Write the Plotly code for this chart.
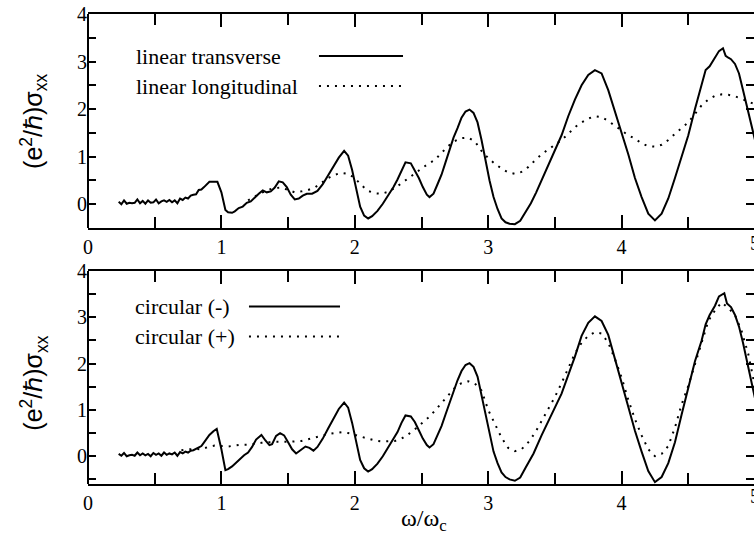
import plotly.graph_objects as go

# ---------------- data ----------------
# top panel: linear transverse (solid)
lt_x = [0.23,0.25,0.27,0.29,0.31,0.33,0.35,0.37,0.39,0.41,0.43,0.45,0.47,0.49,0.51,0.53,0.55,0.57,0.59,0.61,
        0.63,0.65,0.67,0.69,0.71,0.73,0.75,0.77,0.79,0.81,0.83,0.85,0.87,0.89,0.91,0.94,0.97,1.00,1.03,1.05,
        1.08,1.10,1.13,1.16,1.19,1.22,1.25,1.28,1.31,1.34,1.37,1.40,1.43,1.46,1.49,1.52,1.55,1.58,1.61,1.64,
        1.68,1.72,1.76,1.80,1.84,1.88,1.92,1.95,1.98,2.01,2.04,2.07,2.10,2.13,2.17,2.21,2.25,2.29,2.32,2.35,
        2.38,2.42,2.45,2.48,2.51,2.54,2.56,2.59,2.62,2.65,2.68,2.71,2.74,2.77,2.80,2.83,2.86,2.89,2.92,2.95,
        2.98,3.01,3.04,3.07,3.10,3.13,3.16,3.20,3.24,3.28,3.32,3.36,3.40,3.45,3.50,3.55,3.60,3.65,3.70,3.75,
        3.80,3.85,3.90,3.95,4.00,4.05,4.10,4.15,4.20,4.25,4.30,4.35,4.40,4.45,4.50,4.55,4.60,4.63,4.66,4.70,
        4.73,4.76,4.78,4.80,4.82,4.85,4.88,4.91,4.94,4.97,5.00]
lt_y = [0.05,0.00,0.08,0.01,0.03,0.02,0.03,0.10,0.02,0.07,0.01,0.08,0.03,0.04,0.10,0.02,0.06,0.08,0.05,0.09,
        0.04,0.08,0.02,0.12,0.09,0.14,0.12,0.18,0.20,0.21,0.30,0.31,0.36,0.42,0.47,0.47,0.47,0.25,-0.12,-0.17,
        -0.18,-0.15,-0.08,-0.05,0.03,0.06,0.15,0.22,0.29,0.25,0.27,0.35,0.48,0.46,0.36,0.20,0.10,0.12,0.18,0.22,
        0.22,0.28,0.42,0.60,0.80,0.98,1.12,1.02,0.72,0.30,-0.05,-0.24,-0.30,-0.25,-0.14,0.01,0.18,0.36,0.52,0.72,
        0.88,0.86,0.72,0.55,0.36,0.20,0.15,0.22,0.42,0.62,0.88,1.14,1.40,1.60,1.82,1.95,1.99,1.92,1.72,1.35,
        0.90,0.50,0.15,-0.10,-0.30,-0.38,-0.41,-0.42,-0.35,-0.17,0.02,0.25,0.50,0.85,1.15,1.45,1.85,2.20,2.50,2.72,
        2.82,2.75,2.40,1.95,1.55,1.05,0.55,0.15,-0.20,-0.34,-0.20,0.12,0.55,1.00,1.45,2.00,2.50,2.82,2.90,3.10,
        3.22,3.28,3.12,3.08,3.05,2.95,2.75,2.40,2.05,1.70,1.35]

# top panel: linear longitudinal (dotted)
ll_x = [1.20,1.25,1.30,1.35,1.40,1.45,1.50,1.55,1.60,1.65,1.70,1.75,1.80,1.85,1.90,1.95,2.00,2.05,2.10,2.15,
        2.20,2.25,2.30,2.35,2.40,2.45,2.50,2.55,2.60,2.65,2.70,2.75,2.80,2.85,2.90,2.95,3.00,3.05,3.10,3.15,
        3.20,3.25,3.30,3.35,3.40,3.45,3.50,3.55,3.60,3.65,3.70,3.75,3.80,3.85,3.90,3.95,4.00,4.05,4.10,4.15,
        4.20,4.25,4.30,4.35,4.40,4.45,4.50,4.55,4.60,4.65,4.70,4.75,4.80,4.85,4.90,4.95,5.00]
ll_y = [0.08,0.16,0.24,0.30,0.34,0.35,0.30,0.25,0.27,0.30,0.35,0.45,0.55,0.62,0.66,0.64,0.55,0.40,0.28,0.23,
        0.22,0.26,0.34,0.44,0.55,0.65,0.75,0.85,0.93,1.08,1.22,1.33,1.39,1.40,1.32,1.12,0.97,0.85,0.75,0.67,
        0.64,0.68,0.78,0.92,1.05,1.15,1.25,1.35,1.48,1.62,1.72,1.80,1.85,1.83,1.75,1.65,1.55,1.45,1.38,1.28,
        1.22,1.21,1.25,1.35,1.48,1.60,1.72,1.90,2.08,2.20,2.28,2.31,2.30,2.27,2.22,2.16,2.10]

# bottom panel: circular (-) (solid)
cm_x = [0.23,0.25,0.27,0.29,0.31,0.33,0.35,0.37,0.39,0.41,0.43,0.45,0.47,0.49,0.51,0.53,0.55,0.57,0.59,0.61,
        0.63,0.65,0.67,0.69,0.71,0.73,0.75,0.77,0.79,0.81,0.83,0.85,0.87,0.89,0.91,0.94,0.965,1.00,1.03,1.05,
        1.08,1.11,1.14,1.17,1.20,1.23,1.26,1.30,1.33,1.36,1.38,1.41,1.44,1.47,1.50,1.53,1.56,1.59,1.63,1.66,
        1.69,1.72,1.76,1.80,1.84,1.88,1.92,1.95,1.98,2.01,2.04,2.07,2.10,2.13,2.17,2.21,2.25,2.29,2.32,2.35,
        2.38,2.42,2.45,2.48,2.51,2.54,2.56,2.59,2.62,2.65,2.68,2.71,2.74,2.77,2.80,2.83,2.86,2.89,2.92,2.95,
        2.98,3.01,3.04,3.07,3.10,3.13,3.16,3.20,3.24,3.28,3.32,3.34,3.40,3.45,3.50,3.55,3.60,3.65,3.70,3.75,
        3.80,3.85,3.90,3.95,4.00,4.05,4.10,4.15,4.20,4.25,4.30,4.35,4.40,4.45,4.50,4.55,4.60,4.63,4.66,4.70,
        4.73,4.77,4.79,4.82,4.85,4.88,4.91,4.94,4.97,5.00]
cm_y = [0.05,0.01,0.07,0.00,0.02,0.03,0.01,0.08,0.02,0.06,0.02,0.05,0.00,0.07,0.03,0.06,0.01,0.08,0.03,0.06,
        0.04,0.08,0.01,0.09,0.06,0.10,0.08,0.12,0.13,0.16,0.20,0.22,0.30,0.38,0.46,0.54,0.59,0.15,-0.30,-0.28,
        -0.22,-0.14,-0.05,0.02,0.08,0.20,0.36,0.46,0.34,0.24,0.26,0.44,0.50,0.45,0.30,0.15,0.06,0.12,0.21,0.18,
        0.12,0.20,0.38,0.60,0.82,1.02,1.16,1.05,0.72,0.30,-0.08,-0.26,-0.33,-0.28,-0.16,0.00,0.18,0.36,0.52,0.72,
        0.88,0.86,0.74,0.56,0.38,0.24,0.19,0.26,0.45,0.65,0.90,1.16,1.42,1.64,1.84,1.97,2.01,1.93,1.72,1.32,
        0.85,0.45,0.10,-0.15,-0.35,-0.45,-0.50,-0.53,-0.46,-0.25,-0.04,0.06,0.45,0.75,1.02,1.35,1.75,2.15,2.60,2.88,
        3.02,2.92,2.62,2.10,1.58,1.05,0.55,0.10,-0.32,-0.56,-0.45,-0.15,0.30,0.90,1.50,2.05,2.50,2.85,3.05,3.25,
        3.45,3.52,3.30,3.22,3.05,2.80,2.45,2.05,1.65,1.25]

# bottom panel: circular (+) (dotted)
cp_x = [0.70,0.75,0.80,0.85,0.90,0.95,1.00,1.05,1.10,1.15,1.20,1.25,1.30,1.40,1.50,1.60,1.70,1.80,1.90,1.95,
        2.00,2.05,2.10,2.15,2.20,2.25,2.30,2.35,2.40,2.45,2.50,2.55,2.60,2.65,2.70,2.75,2.80,2.85,2.90,2.95,
        3.00,3.05,3.10,3.15,3.20,3.25,3.30,3.35,3.40,3.45,3.50,3.55,3.60,3.65,3.70,3.75,3.80,3.85,3.90,3.95,
        4.00,4.05,4.10,4.15,4.20,4.25,4.30,4.35,4.40,4.45,4.50,4.55,4.60,4.65,4.70,4.75,4.80,4.85,4.90,4.95,5.00]
cp_y = [0.13,0.15,0.16,0.15,0.20,0.23,0.22,0.21,0.23,0.25,0.25,0.27,0.29,0.31,0.31,0.33,0.40,0.48,0.52,0.50,
        0.46,0.42,0.37,0.34,0.32,0.32,0.33,0.38,0.47,0.58,0.70,0.83,0.98,1.15,1.32,1.48,1.58,1.62,1.57,1.42,
        1.00,0.70,0.40,0.18,0.11,0.15,0.30,0.50,0.75,1.00,1.28,1.58,1.92,2.22,2.45,2.60,2.68,2.65,2.45,2.10,
        1.70,1.22,0.80,0.45,0.15,0.00,0.05,0.22,0.62,1.12,1.52,1.98,2.45,2.92,3.15,3.32,3.20,3.05,2.70,2.20,1.50]

top_names = ["linear transverse", "linear longitudinal"]
bot_names = ["circular (-)", "circular (+)"]
x_ticks = [0, 1, 2, 3, 4, 5]
y_ticks = [0, 1, 2, 3, 4]

# ---------------- figure ----------------
SERIF = "Liberation Serif, Times New Roman, serif"
SANS = "Liberation Sans, Arial, sans-serif"
DOT = "2px,6px"

fig = go.Figure()
fig.add_trace(go.Scatter(x=lt_x, y=lt_y, mode="lines", line=dict(color="black", width=2),
                         xaxis="x", yaxis="y", name=top_names[0], showlegend=False))
fig.add_trace(go.Scatter(x=ll_x, y=ll_y, mode="lines", line=dict(color="black", width=2, dash=DOT),
                         xaxis="x", yaxis="y", name=top_names[1], showlegend=False))
fig.add_trace(go.Scatter(x=cm_x, y=cm_y, mode="lines", line=dict(color="black", width=2),
                         xaxis="x2", yaxis="y2", name=bot_names[0], showlegend=False))
fig.add_trace(go.Scatter(x=cp_x, y=cp_y, mode="lines", line=dict(color="black", width=2, dash=DOT),
                         xaxis="x2", yaxis="y2", name=bot_names[1], showlegend=False))

XMAX = 4.9925
TOP_DOM = [0.5447, 1.0]
BOT_DOM = [0.0, 0.4532]

def xax(anchor):
    return dict(range=[0, XMAX], anchor=anchor, showline=True, linecolor="black", linewidth=2,
                mirror="ticks", ticks="inside", ticklen=13, tickwidth=1.5, tickcolor="black",
                tickvals=x_ticks, ticktext=[str(v) for v in x_ticks],
                minor=dict(dtick=0.5, tick0=0, ticks="inside", ticklen=11, tickwidth=1.5, tickcolor="black"),
                showgrid=False, zeroline=False,
                tickfont=dict(family=SERIF, size=20, color="black"))

def yax(anchor, dom, rng):
    # the right-hand frame line lies just outside the canvas in the reference,
    # so only the (mirrored) ticks are drawn there; the left line is a shape
    return dict(range=rng, domain=dom, anchor=anchor, showline=False,
                mirror="ticks", ticks="inside", ticklen=8, tickwidth=1.5, tickcolor="black",
                tickvals=y_ticks, ticktext=[str(v) for v in y_ticks],
                minor=dict(dtick=0.5, tick0=0, ticks="inside", ticklen=8, tickwidth=1.5, tickcolor="black"),
                showgrid=False, zeroline=False,
                tickfont=dict(family=SERIF, size=20, color="black"))

ytitle = "(e<sup>2</sup>/ℏ)σ<sub>xx</sub>"

annotations = [
    dict(text=top_names[0], xref="paper", yref="paper", x=0.069, y=0.9106, xanchor="left", yanchor="middle",
         showarrow=False, font=dict(family=SERIF, size=22, color="black")),
    dict(text=top_names[1], xref="paper", yref="paper", x=0.069, y=0.8468, xanchor="left", yanchor="middle",
         showarrow=False, font=dict(family=SERIF, size=22, color="black")),
    dict(text=bot_names[0], xref="paper", yref="paper", x=0.067, y=0.3777, xanchor="left", yanchor="middle",
         showarrow=False, font=dict(family=SERIF, size=22, color="black")),
    dict(text=bot_names[1], xref="paper", yref="paper", x=0.067, y=0.3138, xanchor="left", yanchor="middle",
         showarrow=False, font=dict(family=SERIF, size=22, color="black")),
    dict(text=ytitle, xref="paper", yref="paper", x=-0.0815, y=0.772, xanchor="center", yanchor="middle",
         textangle=-90, showarrow=False, font=dict(family=SANS, size=25, color="black")),
    dict(text=ytitle, xref="paper", yref="paper", x=-0.0815, y=0.215, xanchor="center", yanchor="middle",
         textangle=-90, showarrow=False, font=dict(family=SANS, size=25, color="black")),
    dict(text="ω/ω<sub>c</sub>", xref="paper", yref="paper", x=0.5045, y=-0.0766, xanchor="center",
         yanchor="middle", showarrow=False, font=dict(family=SERIF, size=24, color="black")),
    dict(text=str(x_ticks[-1]), xref="paper", yref="paper", x=1.0015, y=0.5128, xanchor="center",
         yanchor="middle", showarrow=False, font=dict(family=SERIF, size=20, color="black")),
    dict(text=str(x_ticks[-1]), xref="paper", yref="paper", x=1.0015, y=-0.0255, xanchor="center",
         yanchor="middle", showarrow=False, font=dict(family=SERIF, size=20, color="black")),
]

shapes = [
    # left frame lines of both panels
    dict(type="line", xref="paper", yref="y domain", x0=0, x1=0, y0=0, y1=1,
         line=dict(color="black", width=2)),
    dict(type="line", xref="paper", yref="y2 domain", x0=0, x1=0, y0=0, y1=1,
         line=dict(color="black", width=2)),
    # legend samples
    dict(type="line", xref="paper", yref="paper", x0=0.3468, x1=0.473, y0=0.9106, y1=0.9106,
         line=dict(color="black", width=2)),
    dict(type="line", xref="paper", yref="paper", x0=0.3468, x1=0.473, y0=0.8468, y1=0.8468,
         line=dict(color="black", width=2, dash=DOT)),
    dict(type="line", xref="paper", yref="paper", x0=0.2417, x1=0.3784, y0=0.3777, y1=0.3777,
         line=dict(color="black", width=2)),
    dict(type="line", xref="paper", yref="paper", x0=0.2417, x1=0.3784, y0=0.3138, y1=0.3138,
         line=dict(color="black", width=2, dash=DOT)),
]

fig.update_layout(
    width=754, height=535,
    margin=dict(l=88, r=0, t=14, b=51, autoexpand=False),
    paper_bgcolor="white", plot_bgcolor="white",
    xaxis=xax("y"), yaxis=yax("x", TOP_DOM, [-0.5, 4]),
    xaxis2=xax("y2"), yaxis2=yax("x2", BOT_DOM, [-0.6, 4]),
    annotations=annotations, shapes=shapes,
    showlegend=False,
)

fig.write_html("out.html")
